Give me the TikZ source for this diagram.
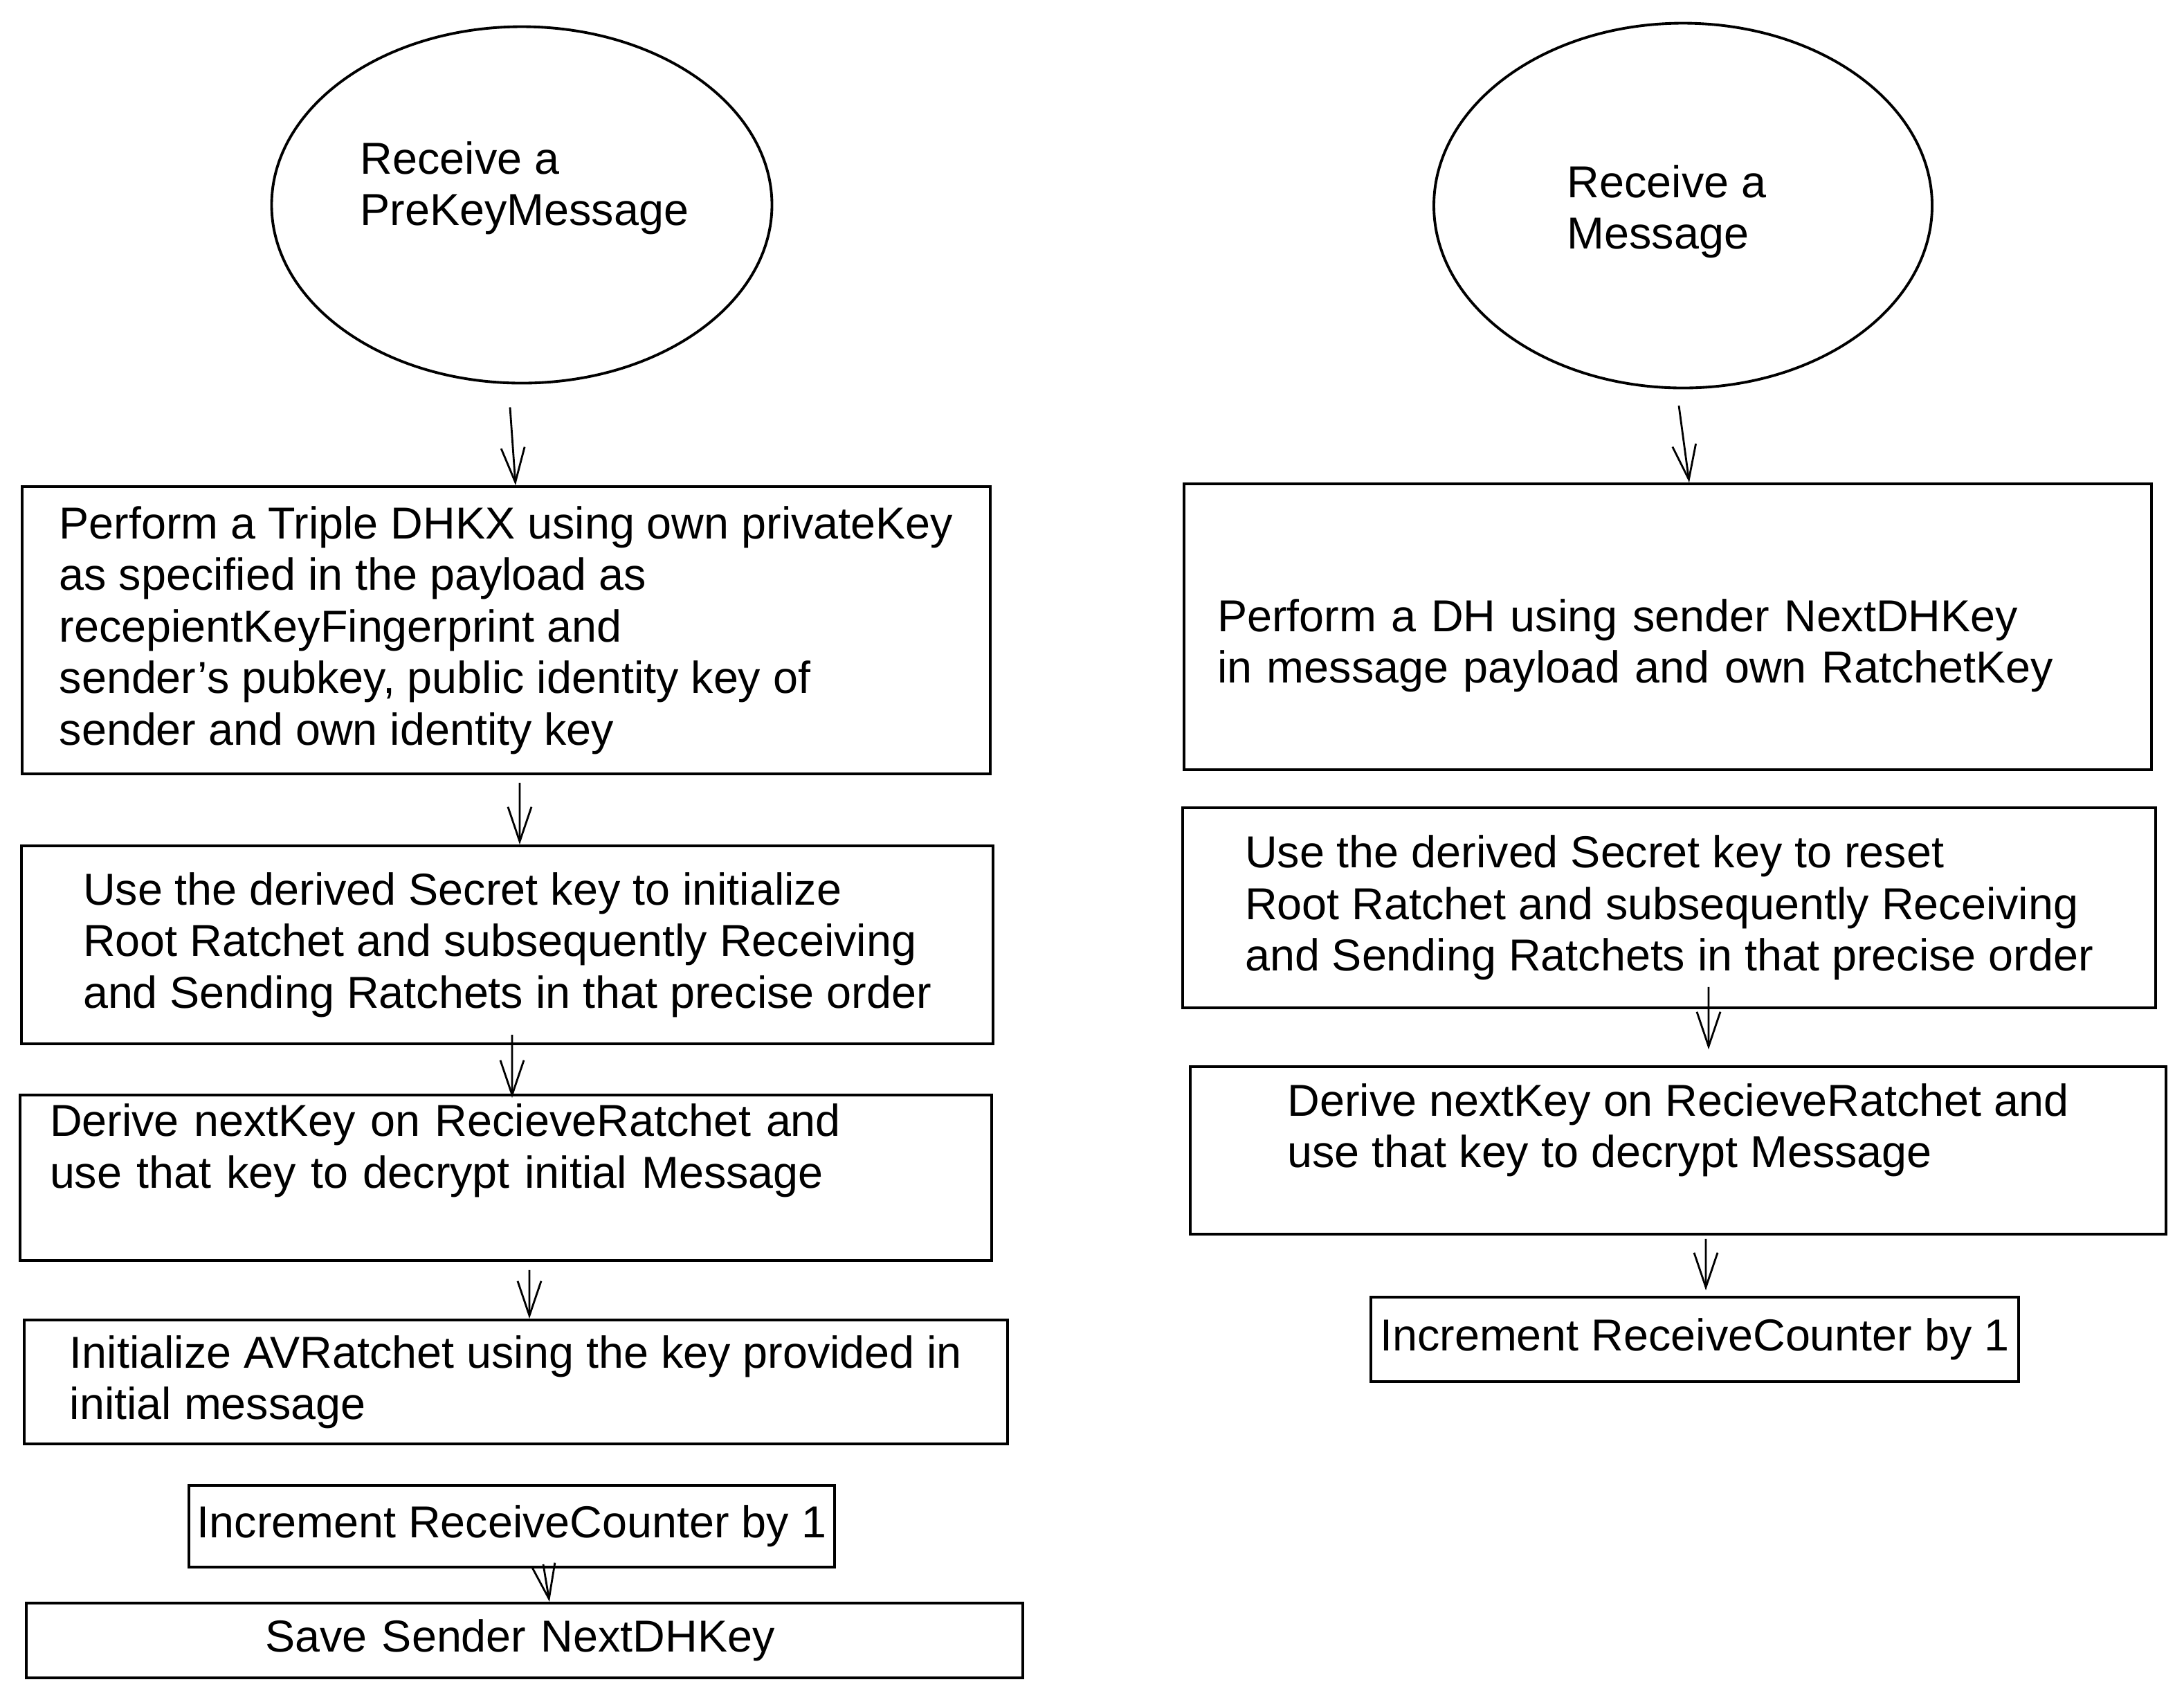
\documentclass[tikz,border=0pt]{standalone}
\usepackage{fontspec}
\setmainfont{Liberation Sans}
\usetikzlibrary{shapes.geometric,arrows.meta}
\tikzset{
stepbox/.style={
	  draw, rectangle, line width=1.1pt, align=left, inner sep=0pt},
startnode/.style={
	  draw, ellipse, line width=1.1pt, inner sep=0pt},
lbl/.style={align=left, inner sep=0pt},
flow/.style={
	  -{Straight Barb[length=5mm,width=3.4mm]}, line width=0.8pt}
}
\newcommand{\boxfont}{\fontsize{18.4pt}{21.2pt}\selectfont}

\begin{document}
\begin{tikzpicture}[every node/.append style={font=\boxfont}]
	\useasboundingbox (0,0) rectangle (31.56,-24.55);
	% left column: PreKeyMessage
	\node[startnode, minimum width=7.23cm, minimum height=5.15cm] (pre) at (7.54,-2.96) {};
	\node[lbl, anchor=west] (pretxt) at ([xshift=-2.34cm,yshift=0.24cm]pre.center) {Receive a\\PreKeyMessage};
	\node[stepbox, minimum width=13.99cm, minimum height=4.15cm] (dhkx) at (7.315,-9.105)
		{Perform a Triple DHKX using own privateKey\\as specified in the payload as\\recepientKeyFingerprint and\\sender's pubkey, public identity key of\\sender and own identity key};
	\node[stepbox, minimum width=14.04cm, minimum height=2.86cm] (initroot) at (7.33,-13.65)
		{Use the derived Secret key to initialize\\Root Ratchet and subsequently Receiving\\and Sending Ratchets in that precise order};
	\node[stepbox, minimum width=14.04cm, minimum height=2.39cm, text width=13.18cm, inner xsep=0.43cm] (derivel) at (7.31,-17.015)
		{Derive nextKey on RecieveRatchet and\\use that key to decrypt initial Message\\[-0.05cm]\strut};
	\node[stepbox, minimum width=14.21cm, minimum height=1.79cm] (avr) at (7.455,-19.965)
		{Initialize AVRatchet using the key provided in\\initial message};
	\node[stepbox, minimum width=9.33cm, minimum height=1.18cm] (incl) at (7.395,-22.05)
		{Increment ReceiveCounter by 1};
	\node[stepbox, minimum width=14.40cm, minimum height=1.08cm, text width=7.5cm, inner xsep=3.45cm] (savekey) at (7.58,-23.70)
		{Save Sender NextDHKey};
	\draw[flow] ([xshift=-0.17cm,yshift=-0.33cm]pre.south) -- ([xshift=0.135cm]dhkx.north);
	\draw[flow] ([xshift=0.195cm,yshift=-0.11cm]dhkx.south) -- ([xshift=0.18cm]initroot.north);
	\draw[flow] ([xshift=0.07cm,yshift=0.15cm]initroot.south) -- ([xshift=0.09cm,yshift=-0.06cm]derivel.north);
	\draw[flow] ([xshift=0.34cm,yshift=-0.12cm]derivel.south) -- ([xshift=0.195cm]avr.north);
	\draw[flow] ([xshift=0.455cm,yshift=0.06cm]incl.south) -- ([xshift=0.36cm]savekey.north);
	% right column: Message
	\node[startnode, minimum width=7.20cm, minimum height=5.27cm] (msg) at (24.32,-2.97) {};
	\node[lbl, anchor=west] (msgtxt) at ([xshift=-1.68cm,yshift=-0.09cm]msg.center) {Receive a\\Message};
	\node[stepbox, minimum width=13.98cm, minimum height=4.13cm, text width=13.02cm, inner xsep=0.48cm] (dh) at (24.10,-9.055)
		{\strut\\[-0.25cm]Perform a DH using sender NextDHKey\\in message payload and own RatchetKey};
	\node[stepbox, minimum width=14.06cm, minimum height=2.89cm] (resetroot) at (24.12,-13.115)
		{Use the derived Secret key to reset\\Root Ratchet and subsequently Receiving\\and Sending Ratchets in that precise order};
	\node[stepbox, minimum width=14.10cm, minimum height=2.42cm] (derivem) at (24.25,-16.62)
		{Derive nextKey on RecieveRatchet and\\use that key to decrypt Message\\[-0.25cm]\strut};
	\node[stepbox, minimum width=9.36cm, minimum height=1.22cm] (incr) at (24.49,-19.35)
		{Increment ReceiveCounter by 1};
	\draw[flow] ([xshift=-0.06cm,yshift=-0.235cm]msg.south) -- ([xshift=0.31cm]dh.north);
	\draw[flow] ([xshift=0.57cm,yshift=0.32cm]resetroot.south) -- ([xshift=0.44cm,yshift=0.23cm]derivem.north);
	\draw[flow] ([xshift=0.40cm,yshift=-0.05cm]derivem.south) -- ([xshift=0.16cm,yshift=0.08cm]incr.north);
\end{tikzpicture}
\end{document}
